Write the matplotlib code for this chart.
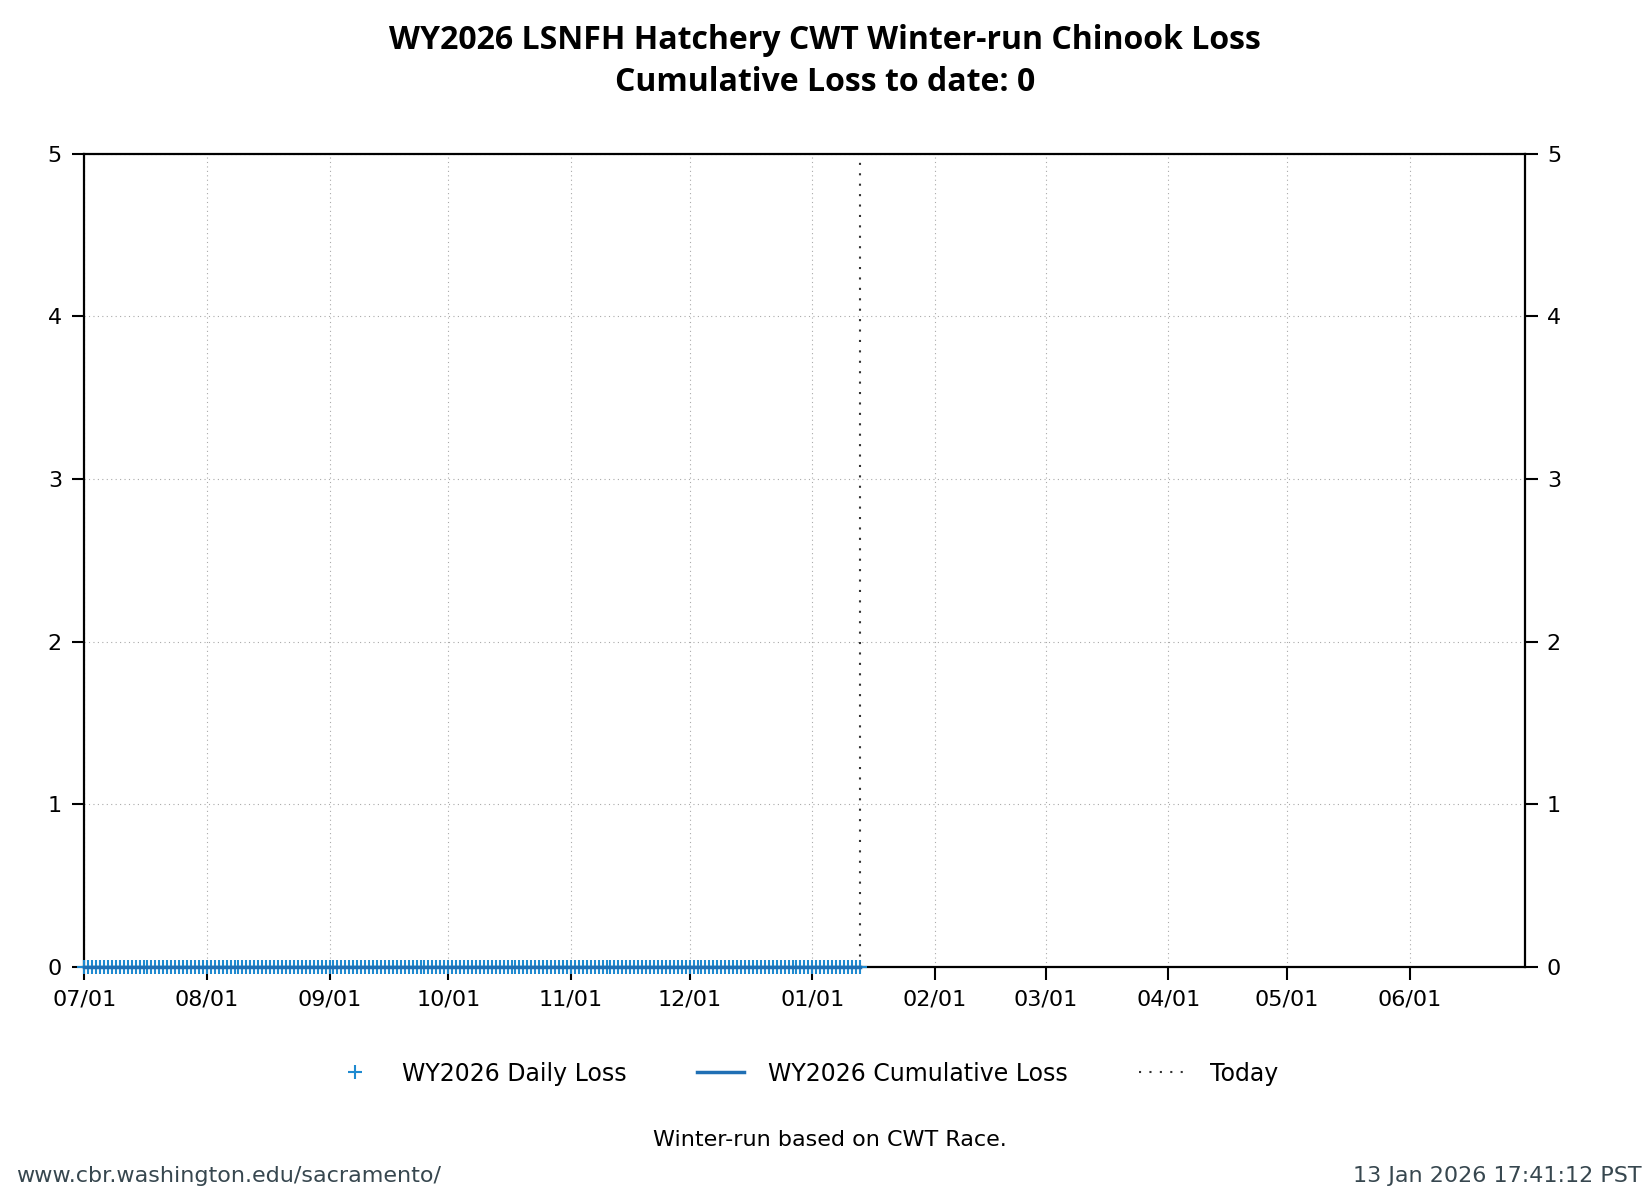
import matplotlib
matplotlib.use("Agg")
import matplotlib.pyplot as plt
import pandas as pd

start_date = "2025-07-01"
today_date = "2026-01-13"
end_date = "2026-06-30"
daily_dates = pd.date_range(start_date, today_date, freq="D")
daily_loss = [0] * len(daily_dates)
cumulative_loss = [0] * len(daily_dates)
tick_dates = pd.date_range("2025-07-01", "2026-06-01", freq="MS")
tick_labels = [d.strftime("%m/%d") for d in tick_dates]

fig = plt.figure(figsize=(16.5, 12), dpi=100)
ax = fig.add_axes([0.051, 0.194, 0.873, 0.678])
ax.plot(daily_dates, daily_loss, "+", color="#1f8ad0", ms=10, mew=1.5, label="WY2026 Daily Loss", zorder=3, clip_on=False)
ax.plot(daily_dates, cumulative_loss, "-", color="#1f6fb4", lw=2.5, label="WY2026 Cumulative Loss", zorder=4, clip_on=False)
ax.axvline(pd.Timestamp(today_date), color="#333333", ls=(0, (1, 4)), lw=1.5, label="Today")

ax.set_xlim(pd.Timestamp(start_date), pd.Timestamp(end_date))
ax.set_ylim(0, 5)
ax.set_xticks(tick_dates)
ax.set_xticklabels(tick_labels)
ax.set_yticks(range(6))
ax.tick_params(direction="out", length=9, width=1.5, labelsize=16, right=True, labelright=True, pad=7)
for s in ax.spines.values():
    s.set_linewidth(1.6)
ax.grid(True, color="#aaaaaa", ls=(0, (1, 3)), lw=0.8)

fig.suptitle("WY2026 LSNFH Hatchery CWT Winter-run Chinook Loss\nCumulative Loss to date: 0",
             y=0.98, fontsize=23, fontweight="bold", family="Open Sans", linespacing=1.35)
ax.legend(loc="upper center", bbox_to_anchor=(0.5, -0.09), ncol=3, frameon=False,
          fontsize=17, handlelength=2, columnspacing=3.0, handletextpad=1.0)
fig.text(0.503, 0.045, "Winter-run based on CWT Race.", ha="center", fontsize=16)
fig.text(0.01, 0.015, "www.cbr.washington.edu/sacramento/", ha="left", fontsize=16, color="#37474f")
fig.text(0.995, 0.015, "13 Jan 2026 17:41:12 PST", ha="right", fontsize=16, color="#37474f")
fig.savefig("out.png", dpi=100)
